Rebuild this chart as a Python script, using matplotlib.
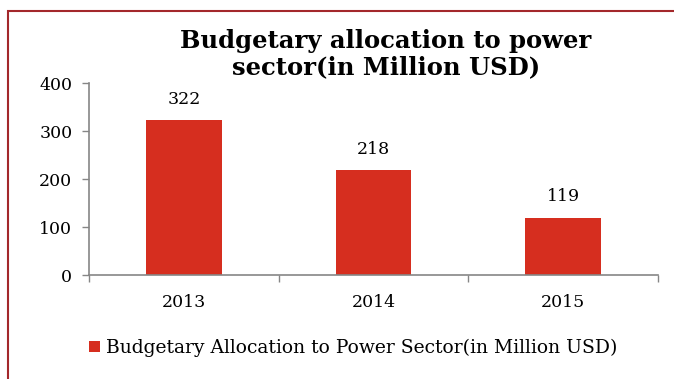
import matplotlib
matplotlib.use("Agg")
import matplotlib.pyplot as plt
from matplotlib.patches import Rectangle
import numpy as np

years = ["2013", "2014", "2015"]
allocation = [322, 218, 119]
series_name = "Budgetary Allocation to Power Sector(in Million USD)"
chart_title = "Budgetary allocation to power\nsector(in Million USD)"

bar_color = "#D62E1F"
axis_color = "#868686"
frame_color = "#A3282B"

plt.rcParams["font.family"] = ["DejaVu Serif"]

fig = plt.figure(figsize=(6.74, 3.79), dpi=100)
ax = fig.add_axes([89 / 674, 1 - 275 / 379, (658 - 89) / 674, (275 - 83) / 379])

x = np.arange(len(years))
bars = ax.bar(x, allocation, width=0.4, color=bar_color, label=series_name)
ax.set_xlim(-0.5, len(years) - 0.5)
ax.set_ylim(0, 400)
ax.set_yticks([0, 100, 200, 300, 400])

for rect, v in zip(bars, allocation):
    ax.annotate(str(v), (rect.get_x() + rect.get_width() / 2, v),
                xytext=(0, 9), textcoords="offset points",
                ha="center", va="bottom", fontsize=12.5)

# category labels centred, tick marks on the category boundaries
ax.set_xticks(x)
ax.set_xticklabels(years, fontsize=12.5)
ax.tick_params(axis="x", which="major", length=0, pad=14)
ax.set_xticks(np.arange(-0.5, len(years)), minor=True)
ax.tick_params(axis="x", which="minor", length=5, color=axis_color, width=1)
ax.tick_params(axis="y", length=5, color=axis_color, width=1, pad=7, labelsize=12.5)

for side in ["top", "right"]:
    ax.spines[side].set_visible(False)
for side in ["left", "bottom"]:
    ax.spines[side].set_color(axis_color)
    ax.spines[side].set_linewidth(1.2)

fig.text(386 / 674, 1 - 54 / 379, chart_title, ha="center", va="center",
         fontsize=17.5, fontweight="bold", linespacing=1.1)

fig.legend(handles=[bars], labels=[series_name], loc="center",
           bbox_to_anchor=(353 / 674, 1 - 348 / 379), frameon=False,
           fontsize=13.5, handlelength=0.6, handleheight=0.6, handletextpad=0.3)

# outer frame, running off the right and bottom edges
fig.add_artist(Rectangle((8 / 674, -0.1), 1.2, 1.1 - 11 / 379,
                         transform=fig.transFigure, fill=False,
                         edgecolor=frame_color, linewidth=1.5, clip_on=False))

fig.savefig("out.png", dpi=100)
